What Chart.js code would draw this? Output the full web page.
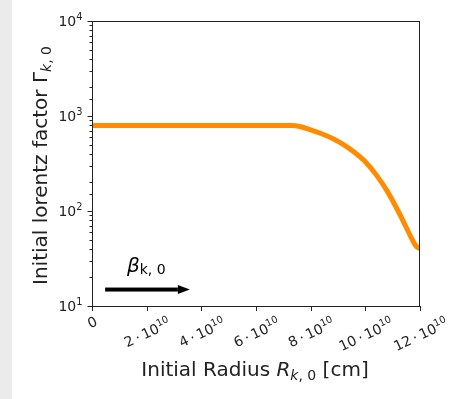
<!DOCTYPE html>
<html>
<head>
<meta charset="utf-8">
<script src="https://cdn.jsdelivr.net/npm/chart.js@4.4.0/dist/chart.umd.min.js"></script>
<style>
  html, body { margin: 0; padding: 0; background: #fff; }
  #wrap { position: relative; width: 455px; height: 399px; }
  #strip { position: absolute; left: 0; top: 0; width: 12px; height: 399px; background: #ebebeb; }
  #chart { position: absolute; left: 0; top: 0; }
</style>
</head>
<body>
<div id="wrap">
  <div id="strip"></div>
  <canvas id="chart" width="455" height="399"></canvas>
</div>
<script>
// curve: initial radius [cm] vs initial lorentz factor
const radius  = [0, 1e10, 2e10, 3e10, 4e10, 5e10, 6e10, 7e10, 7.3e10, 7.6e10, 8.0e10, 8.4e10, 8.8e10,
                 9.2e10, 9.6e10, 10.0e10, 10.4e10, 10.8e10, 11.2e10, 11.5e10, 11.7e10, 11.85e10, 12.0e10];
const lorentz = [794, 794, 794, 794, 794, 794, 794, 794, 793, 775, 715, 650, 580,
                 500, 415, 330, 240, 162, 100, 67, 51, 43, 40];

// axis ticks and labels ("^" starts a superscript)
const xTickLabelsSep = "\u2009·\u2009";
const xTicks = [0, 2e10, 4e10, 6e10, 8e10, 10e10, 12e10];
const xTickLabels = ["0", "2", "4", "6", "8", "10", "12"].map((m, i) => i ? m + xTickLabelsSep + "10^10" : m);
const yTicks = [10, 100, 1000, 10000];
const yTickLabels = ["10^1", "10^2", "10^3", "10^4"];

// the beta arrow annotation, in data units
const arrowFrom = [0.48e10, 14.9];
const arrowTo   = [3.58e10, 14.9];
const betaAt    = [1.28e10, 22.8];

const FONT = '"DejaVu Sans", sans-serif';
const INK = "#222";

function fontOf(r) { return (r.it ? "italic " : "") + r.s + "px " + FONT; }

function runsWidth(ctx, runs) {
  let w = 0;
  runs.forEach(r => { ctx.font = fontOf(r); w += ctx.measureText(r.t).width; });
  return w;
}

function drawRuns(ctx, runs, x, y, align) {
  const w = runsWidth(ctx, runs);
  let cx = align === "center" ? x - w / 2 : align === "right" ? x - w : x;
  ctx.textAlign = "left";
  ctx.textBaseline = "alphabetic";
  runs.forEach(r => {
    ctx.font = fontOf(r);
    ctx.fillText(r.t, cx, y + (r.dy || 0));
    cx += ctx.measureText(r.t).width;
  });
}

function powerRuns(label, fs) {
  const [base, exp] = label.split("^");
  const runs = [{ t: base, s: fs }];
  if (exp) runs.push({ t: exp, s: fs * 0.7, dy: -fs * 0.42 });
  return runs;
}

const decorations = {
  id: "decorations",
  afterDatasetsDraw(chart) {
    const { ctx, chartArea: a, scales: { x, y } } = chart;
    ctx.save();
    ctx.fillStyle = INK;
    ctx.strokeStyle = INK;
    ctx.lineWidth = 1;

    // frame
    ctx.strokeRect(a.left + 0.5, a.top + 0.5, a.right - a.left - 1, a.bottom - a.top);

    // y ticks: majors from the label list, minors from the log scale's own ticks
    y.ticks.forEach(t => {
      const py = Math.round(y.getPixelForValue(t.value)) + 0.5;
      const major = yTicks.includes(t.value);
      const len = major ? 4.5 : 2.5;
      ctx.beginPath();
      ctx.moveTo(a.left, py);
      ctx.lineTo(a.left - len, py);
      ctx.stroke();
    });
    const fs = 14;
    yTicks.forEach((v, i) => {
      const py = y.getPixelForValue(v);
      drawRuns(ctx, powerRuns(yTickLabels[i], fs), a.left - 9.5, py + 0.365 * fs, "right");
    });

    // x ticks and rotated labels
    const rot = 25 * Math.PI / 180;
    xTicks.forEach((v, i) => {
      const px = Math.round(x.getPixelForValue(v)) + 0.5;
      ctx.beginPath();
      ctx.moveTo(px, a.bottom);
      ctx.lineTo(px, a.bottom + 5);
      ctx.stroke();

      const runs = powerRuns(xTickLabels[i], fs);
      const w = runsWidth(ctx, runs);
      const h = (runs.length > 1 ? 0.93 : 0.76) * fs;
      const H = w * Math.sin(rot) + h * Math.cos(rot);
      const cy = a.bottom + 9 + H / 2;
      ctx.save();
      ctx.translate(x.getPixelForValue(v), cy);
      ctx.rotate(-rot);
      drawRuns(ctx, runs, 0, (runs.length > 1 ? 0.465 : 0.38) * fs, "center");
      ctx.restore();
    });

    // axis titles
    const ts = 20, ss = 14;
    drawRuns(ctx, [
      { t: "Initial Radius ", s: ts },
      { t: "R", s: ts, it: true },
      { t: "k", s: ss, it: true, dy: 4 },
      { t: ", 0", s: ss, dy: 4 },
      { t: " [cm]", s: ts }
    ], (a.left + a.right) / 2 - 1, 376, "center");

    ctx.save();
    ctx.translate(47, (a.top + a.bottom) / 2 + 2);
    ctx.rotate(-Math.PI / 2);
    drawRuns(ctx, [
      { t: "Initial lorentz factor Γ", s: ts },
      { t: "k", s: ss, it: true, dy: 4 },
      { t: ", 0", s: ss, dy: 4 }
    ], 0, 0, "center");
    ctx.restore();

    // beta arrow
    const x0 = x.getPixelForValue(arrowFrom[0]), y0 = y.getPixelForValue(arrowFrom[1]);
    const x1 = x.getPixelForValue(arrowTo[0]), y1 = y.getPixelForValue(arrowTo[1]);
    ctx.fillStyle = "#000";
    ctx.fillRect(x0, y0 - 2, (x1 - 12) - x0, 4);
    ctx.beginPath();
    ctx.moveTo(x1 - 12, y1 - 4.5);
    ctx.lineTo(x1, y1);
    ctx.lineTo(x1 - 12, y1 + 4.5);
    ctx.closePath();
    ctx.fill();

    drawRuns(ctx, [
      { t: "β", s: ts, it: true },
      { t: "k, 0", s: ss, dy: 2 }
    ], x.getPixelForValue(betaAt[0]), y.getPixelForValue(betaAt[1]), "left");

    ctx.restore();
  }
};

new Chart(document.getElementById("chart"), {
  type: "line",
  data: {
    datasets: [{
      data: radius.map((r, i) => ({ x: r, y: lorentz[i] })),
      borderColor: "#ff8c00",
      borderWidth: 5,
      pointRadius: 0,
      cubicInterpolationMode: "monotone",
      clip: 0
    }]
  },
  options: {
    responsive: false,
    animation: false,
    devicePixelRatio: 1,
    layout: { padding: { top: 21, right: 35, left: 0, bottom: 0 } },
    plugins: { legend: { display: false }, tooltip: { enabled: false } },
    scales: {
      x: {
        type: "linear",
        min: 0,
        max: 12e10,
        grid: { display: false },
        border: { display: false },
        ticks: { display: false, stepSize: 2e10 },
        afterFit: s => { s.height = 93; }
      },
      y: {
        type: "logarithmic",
        min: 10,
        max: 10000,
        grid: { display: false },
        border: { display: false },
        ticks: { display: false, autoSkip: false },
        afterFit: s => { s.width = 92; }
      }
    }
  },
  plugins: [decorations]
});
</script>
</body>
</html>
